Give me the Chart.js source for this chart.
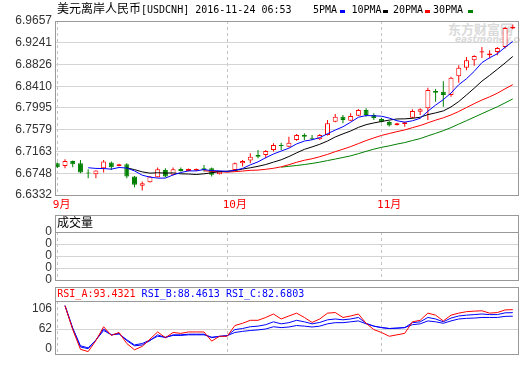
<!DOCTYPE html>
<html lang="zh-CN">
<head>
<meta charset="utf-8">
<title>USDCNH</title>
<script src="https://cdn.jsdelivr.net/npm/chart.js@4/dist/chart.umd.min.js"></script>
<style>
html,body{margin:0;padding:0;background:#fff;}
#wrap{position:relative;width:520px;height:365px;overflow:hidden;background:#fff;}
#wrap canvas{position:absolute;left:0;top:0;}
.t{position:absolute;white-space:nowrap;line-height:12px;color:#000;}
.cjk{font-family:'Noto Sans CJK SC',sans-serif;font-size:12px;}
.mono{font-family:'DejaVu Sans Mono',monospace;font-size:10px;}
.sq{position:absolute;width:5px;height:3px;}
.wm{position:absolute;white-space:nowrap;color:#dadada;}
</style>
</head>
<body>
<div id="wrap">
  <div class="wm" style="left:448px;top:19px;font:bold 13px 'Noto Sans CJK SC';">东方财富网</div>
  <div class="wm" style="left:455px;top:34px;font:italic bold 9px 'DejaVu Sans';">eastmoney.com</div>
  <canvas id="cMain" width="520" height="365"></canvas>
  <canvas id="cVol" width="520" height="365"></canvas>
  <canvas id="cRsi" width="520" height="365"></canvas>
  <div class="t cjk" style="left:57px;top:2px;">美元离岸人民币<span class="mono">[USDCNH] 2016-11-24 06:53</span></div>
  <div class="t mono" style="left:313px;top:4px;">5PMA</div><div class="sq" style="left:340px;top:10px;background:#0000ff"></div>
  <div class="t mono" style="left:351.5px;top:4px;">10PMA</div><div class="sq" style="left:383px;top:10px;background:#000000"></div>
  <div class="t mono" style="left:393px;top:4px;">20PMA</div><div class="sq" style="left:425px;top:10px;background:#ff0000"></div>
  <div class="t mono" style="left:433px;top:4px;">30PMA</div><div class="sq" style="left:468px;top:10px;background:#008000"></div>
  <div class="t cjk" style="left:57px;top:216px;">成交量</div>
  <div class="t mono" id="rsiHead" style="left:57.3px;top:288px;"></div>
</div>
<script>
// ---------------- data ----------------
const monthLabels = ['9月', '10月', '11月'];
const monthStart = [0, 22, 42];

const opens = [6.6939,6.6888,6.6983,6.6939,6.6760,6.6729,6.6844,6.6951,6.6888,6.6920,
  6.6684,6.6507,6.6577,6.6673,6.6811,6.6717,6.6831,6.6793,6.6798,6.6844,
  6.6844,6.6729,6.6770,6.6811,6.6939,6.6989,6.7098,6.7098,6.7193,6.7288,
  6.7256,6.7384,6.7479,6.7427,6.7397,6.7479,6.7732,6.7828,6.7751,6.7847,
  6.7955,6.7860,6.7784,6.7727,6.7670,6.7689,6.7809,6.7923,6.7988,6.8318,
  6.8304,6.8241,6.8603,6.8762,6.8908,6.9055,6.9004,6.9067,6.9162,6.9513];
const highs = [6.6954,6.7016,6.6990,6.7002,6.6825,6.6805,6.7002,6.6970,6.6930,6.6939,
  6.6697,6.6588,6.6697,6.6856,6.6844,6.6856,6.6856,6.6840,6.6840,6.6907,
  6.6856,6.6785,6.6785,6.6951,6.7002,6.7130,6.7193,6.7193,6.7321,6.7332,
  6.7446,6.7498,6.7511,6.7479,6.7498,6.7765,6.7879,6.7860,6.7893,6.7974,
  6.7988,6.7893,6.7803,6.7746,6.7715,6.7730,6.7969,6.7988,6.8380,6.8356,
  6.8508,6.8590,6.8813,6.8971,6.9004,6.9162,6.9099,6.9162,6.9543,6.9589];
const lows = [6.6850,6.6844,6.6863,6.6748,6.6653,6.6653,6.6760,6.6811,6.6880,6.6653,
  6.6482,6.6417,6.6570,6.6665,6.6665,6.6710,6.6779,6.6785,6.6790,6.6779,
  6.6684,6.6722,6.6765,6.6779,6.6875,6.6939,6.7035,6.7035,6.7161,6.7193,
  6.7245,6.7370,6.7384,6.7384,6.7384,6.7470,6.7721,6.7702,6.7746,6.7841,
  6.7828,6.7765,6.7717,6.7641,6.7660,6.7637,6.7797,6.7860,6.7765,6.8114,
  6.8018,6.8209,6.8476,6.8718,6.8800,6.8952,6.8941,6.9004,6.9131,6.9499];
const closes = [6.6863,6.6983,6.6920,6.6760,6.6741,6.6798,6.6970,6.6863,6.6920,6.6684,
  6.6526,6.6558,6.6684,6.6825,6.6684,6.6825,6.6793,6.6831,6.6831,6.6811,
  6.6717,6.6779,6.6775,6.6939,6.6983,6.7065,6.7065,6.7174,6.7288,6.7269,
  6.7332,6.7479,6.7446,6.7408,6.7479,6.7702,6.7828,6.7765,6.7841,6.7955,
  6.7860,6.7803,6.7732,6.7660,6.7702,6.7721,6.7936,6.7969,6.8337,6.8285,
  6.8241,6.8571,6.8762,6.8908,6.8990,6.9080,6.9036,6.9143,6.9524,6.9543];

const ma5 = [null,null,null,null,6.6853,6.6840,6.6838,6.6826,6.6858,6.6847,
  6.6793,6.6710,6.6674,6.6655,6.6655,6.6715,6.6762,6.6792,6.6793,6.6818,
  6.6797,6.6794,6.6783,6.6804,6.6839,6.6908,6.6965,6.7045,6.7115,6.7172,
  6.7226,6.7308,6.7363,6.7387,6.7429,6.7503,6.7573,6.7636,6.7723,6.7818,
  6.7850,6.7845,6.7838,6.7802,6.7751,6.7724,6.7750,6.7798,6.7933,6.8050,
  6.8154,6.8281,6.8439,6.8553,6.8694,6.8862,6.8955,6.9031,6.9155,6.9265];
const ma10 = [null,null,null,null,null,null,null,null,null,6.6850,
  6.6817,6.6774,6.6750,6.6757,6.6751,6.6754,6.6736,6.6733,6.6724,6.6737,
  6.6756,6.6778,6.6787,6.6799,6.6828,6.6852,6.6880,6.6914,6.6960,6.7005,
  6.7067,6.7137,6.7204,6.7251,6.7301,6.7364,6.7441,6.7500,6.7555,6.7624,
  6.7676,6.7709,6.7737,6.7763,6.7785,6.7787,6.7798,6.7818,6.7868,6.7901,
  6.7939,6.8015,6.8118,6.8243,6.8372,6.8508,6.8618,6.8735,6.8854,6.8980];
const ma20 = [null,null,null,null,null,null,null,null,null,null,
  null,null,null,null,null,null,null,null,null,6.6794,
  6.6786,6.6776,6.6769,6.6778,6.6790,6.6803,6.6808,6.6823,6.6842,6.6871,
  6.6911,6.6957,6.6996,6.7025,6.7064,6.7108,6.7160,6.7207,6.7257,6.7314,
  6.7372,6.7423,6.7471,6.7507,6.7543,6.7575,6.7619,6.7659,6.7711,6.7762,
  6.7807,6.7862,6.7928,6.8003,6.8078,6.8147,6.8208,6.8277,6.8361,6.8440];
const ma30 = [null,null,null,null,null,null,null,null,null,null,
  null,null,null,null,null,null,null,null,null,null,
  null,null,null,null,null,null,null,null,null,6.6864,
  6.6880,6.6896,6.6914,6.6935,6.6960,6.6990,6.7019,6.7049,6.7080,6.7122,
  6.7166,6.7208,6.7243,6.7271,6.7305,6.7334,6.7373,6.7410,6.7461,6.7510,
  6.7561,6.7620,6.7687,6.7752,6.7819,6.7886,6.7952,6.8018,6.8092,6.8168];

const priceTicks = [6.6332, 6.6748, 6.7163, 6.7579, 6.7995, 6.8410, 6.8826, 6.9241, 6.9657];
const priceTickLabels = ['6.6332','6.6748','6.7163','6.7579','6.7995','6.8410','6.8826','6.9241','6.9657'];

const volumeTickLabels = ['0','0','0','0','0'];

const rsiA = [null,100.0,60.6,28.1,24.4,42.4,65.3,51.0,55.9,37.7,
  27.3,33.0,44.9,56.7,47.3,55.9,54.4,56.7,56.7,56.7,
  41.6,49.6,49.6,67.3,71.0,75.9,75.9,80.6,86.3,78.1,
  83.0,87.7,80.6,72.4,78.1,87.7,88.7,80.6,83.0,86.3,
  71.0,60.6,55.9,49.6,52.0,54.4,73.4,75.9,87.7,84.4,
  74.9,84.4,87.7,90.1,91.0,91.6,87.7,88.7,93.0,93.4321];
const rsiB = [null,100.0,62.0,32.0,29.1,43.4,61.6,52.0,54.4,42.4,
  33.9,35.3,42.4,52.0,47.3,52.0,52.0,53.0,53.0,53.0,
  47.3,49.6,50.6,60.6,62.4,65.3,66.3,68.7,73.4,70.1,
  72.0,75.9,73.4,70.1,72.4,76.7,78.1,76.7,78.1,80.6,
  71.0,66.3,63.9,62.4,63.0,63.9,72.0,73.4,80.6,78.1,
  73.4,79.6,83.0,84.4,85.3,86.3,85.3,85.3,88.2,88.4613];
const rsiC = [null,100.0,63.0,33.9,30.6,43.4,59.1,52.0,53.4,43.9,
  35.3,37.7,43.4,49.6,48.1,51.0,51.0,52.0,52.0,52.0,
  48.1,49.1,50.6,55.9,57.7,59.1,60.1,61.6,65.3,63.9,
  64.9,67.3,66.3,64.9,66.3,70.1,72.0,72.0,73.4,74.9,
  70.1,66.3,63.9,62.4,63.0,63.9,68.7,70.1,74.9,73.4,
  71.0,74.9,78.1,79.1,79.6,80.6,80.6,80.6,82.4,82.6803];
const rsiTickLabels = ['106', '62', '0'];

// ---------------- styles / layout ----------------
const RED = '#ff0000', GREEN = '#008000', BLUE = '#0000ff', BLACK = '#000000';
const GRID = '#d4d4d4', VGRID = '#c4c4c4', FRAME = '#999999';
const X_MIN = -0.298, X_MAX = 59.74;       // index range across the plot width
const RSI_MIN = 19.1, RSI_MAX = 107.7;
const RSI_TICK_FRAC = [0.145, 0.521, 0.882];
const axisFont = {family: "'Liberation Sans', Arial, sans-serif", size: 12};
const monthFont = {family: "'DejaVu Sans Mono', 'Noto Sans CJK SC', monospace", size: 11};

const framePlugin = {
  id: 'frame',
  afterDraw(chart, args, o) {
    const {ctx, chartArea: a} = chart;
    const al = v => Math.round(v - 0.5) + 0.5;
    const L = al(a.left), R = al(a.right), T = al(a.top - (o.header || 0)), B = al(a.bottom), S = al(a.top);
    ctx.save();
    ctx.strokeStyle = FRAME; ctx.lineWidth = 1;
    ctx.strokeRect(L, T, R - L, B - T);
    if (o.header) { ctx.beginPath(); ctx.moveTo(L, S); ctx.lineTo(R, S); ctx.stroke(); }
    ctx.restore();
  }
};

const monthX = (showLabels) => ({
  type: 'linear', min: X_MIN, max: X_MAX, offset: false,
  grid: {offset: false, color: VGRID, drawTicks: false},
  border: {display: false, dash: [3, 3]},
  ticks: {display: showLabels, autoSkip: false, maxRotation: 0, align: 'start', labelOffset: -4.5,
          padding: 4, color: RED, font: monthFont, callback: (v, i) => monthLabels[i]},
  afterBuildTicks: s => { s.ticks = monthStart.map(v => ({value: v})); },
  afterFit: s => { s.height = showLabels ? 20 : 0; }
});
const leftY = (extra) => Object.assign({
  type: 'linear', beginAtZero: false,
  border: {display: false},
  afterFit: s => { s.width = 55; }
}, extra);
const yTicks = labels => ({autoSkip: false, padding: 3, color: '#333', font: axisFont, callback: (v, i) => labels[i]});

const base = {responsive: false, animation: false, devicePixelRatio: 1, events: []};

const up = i => closes[i] >= opens[i];
const line = (label, arr, color) => ({
  type: 'line', label, data: arr.map((v, i) => ({x: i, y: v})),
  borderColor: color, borderWidth: 1, pointRadius: 0, tension: 0, fill: false, order: -1
});

// ---------------- main price panel ----------------
new Chart(document.getElementById('cMain'), {
  type: 'bar',
  data: {
    datasets: [
      line('5PMA', ma5, BLUE),
      line('10PMA', ma10, BLACK),
      line('20PMA', ma20, RED),
      line('30PMA', ma30, GREEN),
      {
        label: 'body', order: 1, grouped: false, barThickness: 5, inflateAmount: 0,
        borderWidth: 1, borderSkipped: false,
        data: opens.map((o, i) => ({x: i, y: [o, closes[i]]})),
        backgroundColor: c => up(c.dataIndex) ? '#ffffff' : GREEN,
        borderColor: c => up(c.dataIndex) ? RED : GREEN
      },
      {
        label: 'wick', order: 2, grouped: false, barThickness: 1, inflateAmount: 0,
        borderWidth: 0,
        data: lows.map((l, i) => ({x: i, y: [l, highs[i]]})),
        backgroundColor: c => up(c.dataIndex) ? RED : GREEN
      }
    ]
  },
  options: Object.assign({}, base, {
    layout: {padding: {top: 21, bottom: 150, left: 0, right: 1.5}},
    plugins: {legend: {display: false}, tooltip: {enabled: false}, frame: {header: 0}},
    scales: {
      x: monthX(true),
      y: leftY({
        min: priceTicks[0], max: priceTicks[priceTicks.length - 1],
        grid: {color: GRID, drawTicks: false},
        ticks: yTicks(priceTickLabels),
        afterBuildTicks: s => { s.ticks = priceTicks.map(v => ({value: v})); }
      })
    }
  }),
  plugins: [framePlugin]
});

// ---------------- volume panel ----------------
new Chart(document.getElementById('cVol'), {
  type: 'line',
  data: {datasets: []},
  options: Object.assign({}, base, {
    layout: {padding: {top: 232, bottom: 85, left: 0, right: 1.5}},
    plugins: {legend: {display: false}, tooltip: {enabled: false}, frame: {header: 17}},
    scales: {
      x: monthX(false),
      y: leftY({
        min: 0, max: volumeTickLabels.length - 1,
        grid: {color: GRID, drawTicks: false},
        ticks: yTicks(volumeTickLabels),
        afterBuildTicks: s => { s.ticks = volumeTickLabels.map((_, i) => ({value: i})); }
      })
    }
  }),
  plugins: [framePlugin]
});

// ---------------- RSI panel ----------------
document.getElementById('rsiHead').innerHTML =
  '<span style="color:' + RED + '">RSI_A:' + rsiA[rsiA.length - 1].toFixed(4) + '</span> ' +
  '<span style="color:' + BLUE + '">RSI_B:' + rsiB[rsiB.length - 1].toFixed(4) + '</span> ' +
  '<span style="color:' + BLUE + '">RSI_C:' + rsiC[rsiC.length - 1].toFixed(4) + '</span>';

const rsiLine = (label, arr, color) => ({
  label, data: arr.map((v, i) => ({x: i, y: v})),
  borderColor: color, borderWidth: 1, pointRadius: 0, tension: 0, fill: false
});
new Chart(document.getElementById('cRsi'), {
  type: 'line',
  data: {datasets: [rsiLine('RSI_A', rsiA, RED), rsiLine('RSI_B', rsiB, BLUE), rsiLine('RSI_C', rsiC, BLUE)]},
  options: Object.assign({}, base, {
    layout: {padding: {top: 301, bottom: 2, left: 0, right: 1.5}},
    plugins: {legend: {display: false}, tooltip: {enabled: false}, frame: {header: 14}},
    scales: {
      x: monthX(false),
      y: leftY({
        min: RSI_MIN, max: RSI_MAX,
        grid: {color: c => c.index === 1 ? GRID : 'rgba(0,0,0,0)', drawTicks: false},
        ticks: yTicks(rsiTickLabels),
        afterBuildTicks: s => { s.ticks = RSI_TICK_FRAC.map(f => ({value: s.max - (s.max - s.min) * f})); }
      })
    }
  }),
  plugins: [framePlugin]
});
</script>
</body>
</html>
